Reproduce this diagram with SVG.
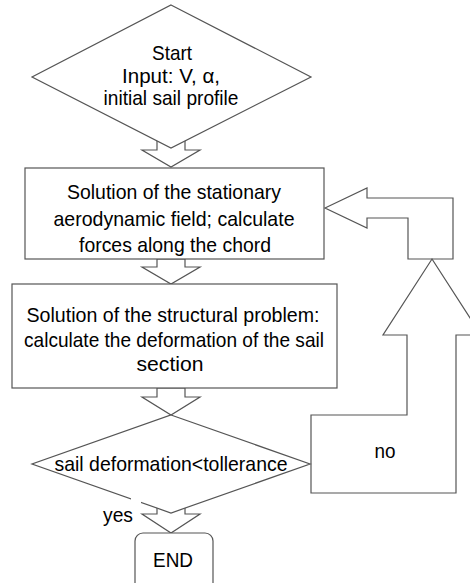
<svg xmlns="http://www.w3.org/2000/svg" width="470" height="583" viewBox="0 0 470 583">
<style>
.s{fill:#fff;stroke:#555;stroke-width:1.2}
.t{font-family:"Liberation Sans",Arial,sans-serif;font-size:21px;fill:#000;text-anchor:middle}
</style>
<rect width="470" height="583" fill="#fff"/>
<g id="connectors">
<polygon class="s" points="157,128 157,150 142,150 171,167 200,150 185,150 185,128"/>
<polygon class="s" points="157,259 157,267 142,267 171,284 200,267 185,267 185,259"/>
<polygon class="s" points="157,388 157,397 142,397 171,415 200,397 185,397 185,388"/>
<polygon class="s" points="157,498 157,514 142,514 171,533 200,514 185,514 185,498"/>
<polygon class="s" points="325,208 367,188 367,198 453,198 453,259 408,259 408,218 367,218 367,228"/>
<polygon class="s" points="432,259 481,335 456,335 456,493 311,493 311,415 407,415 407,335 383,335"/>
<text class="t" x="385" y="458" textLength="21" lengthAdjust="spacingAndGlyphs">no</text>
</g>
<g id="start">
<polygon class="s" points="171,5 311,77 171,148 32,77"/>
<text class="t" x="172" y="60" textLength="40" lengthAdjust="spacingAndGlyphs">Start</text>
<text class="t" x="171" y="83" textLength="98" lengthAdjust="spacingAndGlyphs">Input: V, α,</text>
<text class="t" x="171" y="105" textLength="135" lengthAdjust="spacingAndGlyphs">initial sail profile</text>
</g>
<g id="aero">
<rect class="s" x="25" y="168" width="299" height="91"/>
<text class="t" x="174" y="199" textLength="214" lengthAdjust="spacingAndGlyphs">Solution of the stationary</text>
<text class="t" x="174" y="226" textLength="241" lengthAdjust="spacingAndGlyphs">aerodynamic field; calculate</text>
<text class="t" x="175" y="252" textLength="192" lengthAdjust="spacingAndGlyphs">forces along the chord</text>
</g>
<g id="struct">
<rect class="s" x="12" y="284" width="325" height="104"/>
<text class="t" x="173" y="322" textLength="293" lengthAdjust="spacingAndGlyphs">Solution of the structural problem:</text>
<text class="t" x="174" y="347" textLength="300" lengthAdjust="spacingAndGlyphs">calculate the deformation of the sail</text>
<text class="t" x="170" y="371" textLength="67" lengthAdjust="spacingAndGlyphs">section</text>
</g>
<g id="decision">
<polygon class="s" points="171,415 310,464 171,513 32,464"/>
<text class="t" x="171" y="471" textLength="233" lengthAdjust="spacingAndGlyphs">sail deformation&lt;tollerance</text>
</g>
<g id="yes-label">
<rect x="131" y="498" width="10" height="8" fill="#fff"/>
<text class="t" x="118" y="522" textLength="30" lengthAdjust="spacingAndGlyphs">yes</text>
</g>
<g id="end">
<rect class="s" x="135" y="533" width="78" height="60" rx="8"/>
<text class="t" x="173" y="567" textLength="40" lengthAdjust="spacingAndGlyphs">END</text>
</g>
</svg>
